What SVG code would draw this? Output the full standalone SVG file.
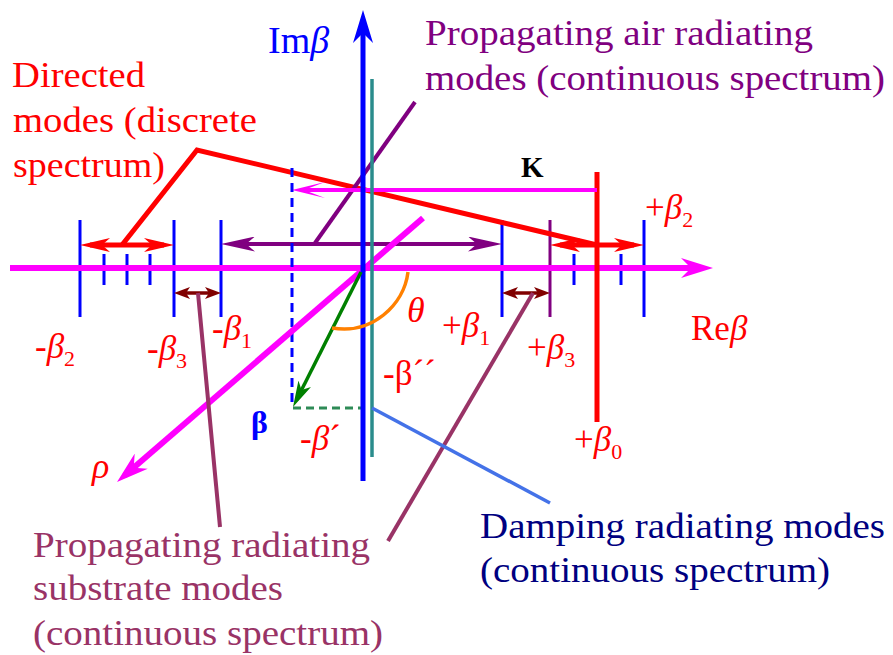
<svg xmlns="http://www.w3.org/2000/svg" width="893" height="655" viewBox="0 0 893 655">
<style>
.lbl{font-size:35px}
.sym{font-size:35px;fill:#ff0000}
.sub{font-size:22px;font-style:normal}
.it{font-style:italic}
.tick{stroke:#0000ff;stroke-width:3;fill:none}
</style>
<defs>
<marker id="mRed" markerUnits="userSpaceOnUse" markerWidth="30" markerHeight="14" refX="20" refY="7" orient="auto-start-reverse"><path d="M0,0 L30,7 L0,14 L8,7 z" fill="#ff0000"/></marker>
<marker id="mPur" markerUnits="userSpaceOnUse" markerWidth="34" markerHeight="15" refX="24" refY="7.5" orient="auto-start-reverse"><path d="M0,0 L34,7.5 L0,15 L9,7.5 z" fill="#800080"/></marker>
<marker id="mMar" markerUnits="userSpaceOnUse" markerWidth="16" markerHeight="12" refX="10" refY="6" orient="auto-start-reverse"><path d="M0,0 L16,6 L0,12 L4,6 z" fill="#800000"/></marker>
<marker id="mMag" markerUnits="userSpaceOnUse" markerWidth="32" markerHeight="20" refX="22" refY="10" orient="auto"><path d="M0,0 L32,10 L0,20 L10,10 z" fill="#ff00ff"/></marker>
<marker id="mK" markerUnits="userSpaceOnUse" markerWidth="33" markerHeight="16" refX="24" refY="8" orient="auto"><path d="M0,0 L33,8 L0,16 L21,8 z" fill="#ff00ff"/></marker>
<marker id="mBlue" markerUnits="userSpaceOnUse" markerWidth="33" markerHeight="20" refX="23" refY="10" orient="auto"><path d="M0,0 L33,10 L0,20 L10,10 z" fill="#0000ff"/></marker>
<marker id="mGrn" markerUnits="userSpaceOnUse" markerWidth="26" markerHeight="14" refX="18" refY="7" orient="auto"><path d="M0,0 L26,7 L0,14 L7,7 z" fill="#008000"/></marker>
</defs>

<g id="connectors" fill="none">
  <g id="ticks">
    <path class="tick" d="M80,220V317 M174,220V317 M221,220V317 M502,220V317 M644,220V317 M104,254V285 M127,254V285 M150,254V285 M574,254V285 M621,254V285"/>
    <path d="M550,220V317" stroke="#800080" stroke-width="3"/>
  </g>
  <line id="re-axis" x1="10" y1="268" x2="703" y2="268" stroke="#ff00ff" stroke-width="6" marker-end="url(#mMag)"/>
  <line id="beta0-line" x1="597" y1="172" x2="597" y2="422" stroke="#ff0000" stroke-width="5"/>
  <line x1="90" y1="245" x2="164" y2="245" stroke="#ff0000" stroke-width="5" marker-start="url(#mRed)" marker-end="url(#mRed)"/>
  <line x1="560" y1="245" x2="634" y2="245" stroke="#ff0000" stroke-width="5" marker-start="url(#mRed)" marker-end="url(#mRed)"/>
  <polyline points="122,245 197,150 597,245" stroke="#ff0000" stroke-width="5" stroke-linejoin="miter"/>
  <line x1="231" y1="244" x2="492" y2="244" stroke="#800080" stroke-width="4" marker-start="url(#mPur)" marker-end="url(#mPur)"/>
  <line x1="315" y1="243" x2="415" y2="102" stroke="#800080" stroke-width="4"/>
  <line x1="180" y1="293" x2="215" y2="293" stroke="#800000" stroke-width="3.5" marker-start="url(#mMar)" marker-end="url(#mMar)"/>
  <line x1="508" y1="293" x2="544" y2="293" stroke="#800000" stroke-width="3.5" marker-start="url(#mMar)" marker-end="url(#mMar)"/>
  <line id="k-arrow" x1="597" y1="190" x2="301" y2="190" stroke="#ff00ff" stroke-width="4" marker-end="url(#mK)"/>
  <line x1="292" y1="168" x2="292" y2="408" stroke="#0000ff" stroke-width="3" stroke-dasharray="9,6"/>
  <line x1="293" y1="408" x2="362" y2="408" stroke="#2e8b57" stroke-width="3" stroke-dasharray="8,5"/>
  <line id="rho-axis" x1="423" y1="218" x2="124.6" y2="475.5" stroke="#ff00ff" stroke-width="6" marker-end="url(#mMag)"/>
  <line id="im-axis" x1="363" y1="481" x2="363" y2="20" stroke="#0000ff" stroke-width="5" marker-end="url(#mBlue)"/>
  <line x1="372" y1="79" x2="372" y2="457" stroke="#2a8c8c" stroke-width="3.5"/>
  <line x1="361" y1="272" x2="296.6" y2="399.8" stroke="#008000" stroke-width="3.5" marker-end="url(#mGrn)"/>
  <path id="theta-arc" d="M408,272 C404,305 372,335 332,328" stroke="#ff8000" stroke-width="3.5"/>
  <line x1="198" y1="293" x2="220" y2="527" stroke="#993366" stroke-width="4"/>
  <line x1="533" y1="293" x2="388" y2="541" stroke="#993366" stroke-width="4"/>
  <line x1="372" y1="408" x2="550" y2="503" stroke="#4472e8" stroke-width="3.5"/>
</g>

<g font-family="'Liberation Serif', 'Times New Roman', 'DejaVu Serif', serif">
<g id="label-im"><text x="268" y="53" font-size="38" fill="#0000ff">Im<tspan class="it">β</tspan></text></g>
<g id="label-air" class="lbl" fill="#800080">
  <text x="425" y="45" textLength="388" lengthAdjust="spacingAndGlyphs">Propagating air radiating</text>
  <text x="425" y="90" textLength="460" lengthAdjust="spacingAndGlyphs">modes (continuous spectrum)</text>
</g>
<g id="label-directed" class="lbl" fill="#ff0000">
  <text x="12" y="87" textLength="133" lengthAdjust="spacingAndGlyphs">Directed</text>
  <text x="13" y="132" textLength="244" lengthAdjust="spacingAndGlyphs">modes (discrete</text>
  <text x="13" y="177" textLength="152" lengthAdjust="spacingAndGlyphs">spectrum)</text>
</g>
<g id="label-substrate" class="lbl" fill="#993366">
  <text x="33" y="557" textLength="337" lengthAdjust="spacingAndGlyphs">Propagating radiating</text>
  <text x="33" y="600" textLength="250" lengthAdjust="spacingAndGlyphs">substrate modes</text>
  <text x="33" y="645" textLength="350" lengthAdjust="spacingAndGlyphs">(continuous spectrum)</text>
</g>
<g id="label-damping" class="lbl" fill="#000080">
  <text x="480" y="538" textLength="405" lengthAdjust="spacingAndGlyphs">Damping radiating modes</text>
  <text x="480" y="582" textLength="350" lengthAdjust="spacingAndGlyphs">(continuous spectrum)</text>
</g>
<g id="label-k"><text x="521" y="177" font-size="29" font-weight="bold" fill="#000000">K</text></g>
<g id="beta-labels">
  <text class="sym" x="35" y="358">-<tspan class="it">β</tspan><tspan class="sub" dy="8">2</tspan></text>
  <text class="sym" x="147" y="360">-<tspan class="it">β</tspan><tspan class="sub" dy="8">3</tspan></text>
  <text class="sym" x="212" y="340">-<tspan class="it">β</tspan><tspan class="sub" dy="8">1</tspan></text>
  <text class="sym" x="442" y="337">+<tspan class="it">β</tspan><tspan class="sub" dy="8">1</tspan></text>
  <text class="sym" x="527" y="359">+<tspan class="it">β</tspan><tspan class="sub" dy="8">3</tspan></text>
  <text class="sym" x="645" y="219">+<tspan class="it">β</tspan><tspan class="sub" dy="8">2</tspan></text>
  <text class="sym" x="574" y="451">+<tspan class="it">β</tspan><tspan class="sub" dy="8">0</tspan></text>
  <text x="691" y="340" font-size="35" fill="#ff0000">Re<tspan class="it">β</tspan></text>
  <text x="407" y="322" font-size="36" fill="#ff0000" class="it">θ</text>
  <text class="sym" x="383" y="385">-β´´</text>
  <text class="sym" x="300" y="450">-<tspan class="it">β</tspan>´</text>
  <text x="251" y="433" font-size="32" font-weight="bold" fill="#0000ff">β</text>
  <text x="92" y="478" font-size="36" fill="#ff0000" class="it">ρ</text>
</g>
</g>
</svg>
